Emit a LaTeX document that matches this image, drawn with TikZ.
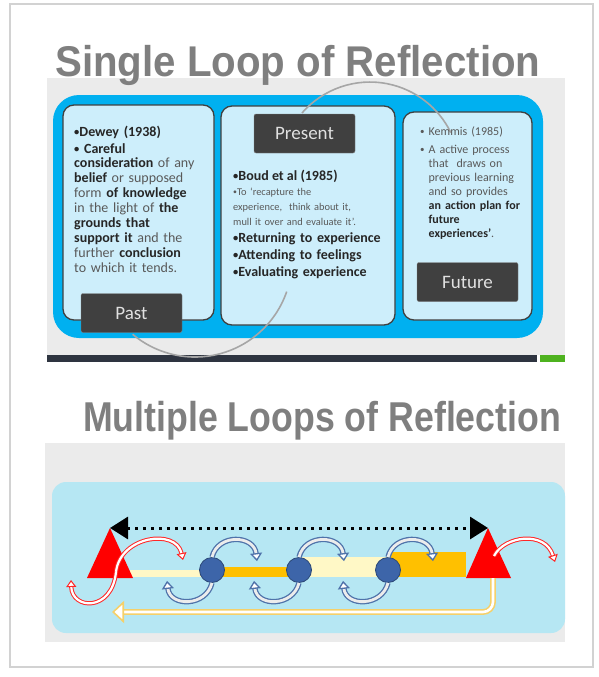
\documentclass[tikz,border=0pt]{standalone}
\usepackage{fontspec}
\usepackage{graphicx}
\setmainfont{Carlito}
\newfontfamily\headfont{Liberation Sans}
\usetikzlibrary{positioning,arrows.meta}

\definecolor{headgrey}{HTML}{7F7F7F}
\definecolor{slidegrey}{HTML}{EBEBEB}
\definecolor{loopblue}{HTML}{00B0F0}
\definecolor{cardblue}{HTML}{CDEEFB}
\definecolor{tagdark}{HTML}{404040}
\definecolor{inkdark}{HTML}{262626}
\definecolor{inkgrey}{HTML}{595959}
\definecolor{barslate}{HTML}{2E3440}
\definecolor{bargreen}{HTML}{4EB21F}
\definecolor{skyblue}{HTML}{B6E7F3}
\definecolor{paleyellow}{HTML}{FFF8C6}
\definecolor{amber}{HTML}{FFC000}
\definecolor{stepblue}{HTML}{3D65A9}
\definecolor{arcblue}{HTML}{4F73AA}
\definecolor{markred}{HTML}{FF0000}
\definecolor{gold}{HTML}{F5D06A}

\newcommand{\keyw}[1]{\textbf{\color{inkdark}#1}}
\newcommand{\bul}{\raisebox{0.4pt}{\scalebox{0.75}{\textbullet}}}

\begin{document}
\begin{tikzpicture}[x=1pt,y=-1pt]
  \tikzstyle{card}=[draw=tagdark,line width=1.3pt,fill=cardblue,rounded corners=11pt]
  \tikzstyle{tag}=[draw=gray,fill=tagdark,rounded corners=2pt,text=white!88!black,
    font=\fontsize{19}{19}\selectfont,minimum width=101pt,minimum height=39pt]
  \tikzstyle{txt}=[inner sep=0pt,anchor=base west,align=left,text=inkgrey]
  \tikzstyle{heading}=[inner sep=0pt,anchor=base west,text=headgrey,font=\headfont\bfseries\fontsize{43}{43}\selectfont]
  \tikzstyle{loopline}=[draw=gray!70,line width=1.6pt]
  \tikzstyle{stepdot}=[circle,fill=stepblue,draw=stepblue!70!black,line width=0.8pt,minimum size=25pt,inner sep=0pt]
  \tikzstyle{bluearc}=[draw=arcblue,line width=1.3pt,double=white!85!gray,double distance=2.8pt,
    -{Triangle[length=8pt,width=12pt,fill=white]}]
  \tikzstyle{redarc}=[draw=markred!85!white,line width=1pt,double=white,double distance=2.2pt,
    -{Triangle[length=7pt,width=10pt,fill=white]}]
  \tikzstyle{returnline}=[draw=gold,line width=1.6pt,double=white,double distance=2.6pt,rounded corners=10pt,
    -{Triangle[length=12pt,width=22pt,fill=white]}]
  \tikzstyle{dotline}=[draw=black,line width=3pt,dash pattern=on 3pt off 5pt,
    {Triangle[length=18pt,width=22pt]}-{Triangle[length=18pt,width=22pt]}]

  \useasboundingbox (0,0) rectangle (598,677);
  \fill[white] (0,0) rectangle (598,677);
  \draw[gray!35,line width=1.5pt] (10,4) rectangle (593,667);

  % single loop
  \fill[slidegrey] (47,78) rectangle (565,355);
  \fill[barslate] (47,355) rectangle (537,362);
  \fill[bargreen] (540,355) rectangle (565,362);
  \node[heading] (singletitle) at (55,76) {\scalebox{0.936}[1]{Single Loop of Reflection}};
  \fill[loopblue,rounded corners=26pt] (53,95) rectangle (543,338);

  \node[card,minimum width=151pt,minimum height=215pt] (pastbox) at (138.5,212.5) {};
  \node[card,minimum width=174pt,minimum height=219pt] (presentbox) at (308,215.5) {};
  \node[card,minimum width=129pt,minimum height=208pt] (futurebox) at (467.5,216) {};

  \draw[loopline] (302,113) arc (-139:-26:90);
  \draw[loopline] (286.7,291.6) arc (19:130:97);

  \node[txt,text width=140pt,font=\fontsize{14}{14.9}\selectfont] (deweytext) at (74,136)
    {\keyw{\bul Dewey (1938)}\\[2.1pt]
     \keyw{\bul\ Careful}\\
     \keyw{consideration} of any\\
     \keyw{belief} or supposed\\
     form \keyw{of knowledge}\\
     in the light of \keyw{the}\\
     \keyw{grounds that}\\
     \keyw{support it} and the\\
     further \keyw{conclusion}\\
     to which it tends.};

  \node[txt,font=\fontsize{14}{17}\selectfont] (boudhead) at (233,180) {\keyw{\bul Boud et al (1985)}};
  \node[txt,text width=160pt,font=\fontsize{10.4}{15}\selectfont] (boudquote) at (233,195)
    {\bul To `recapture the\\
     experience,\ \ think about it,\\
     mull it over and evaluate it'.};
  \node[txt,text width=160pt,font=\fontsize{14}{17}\selectfont] (boudsteps) at (233,242)
    {\keyw{\bul Returning to experience}\\
     \keyw{\bul Attending to feelings}\\
     \keyw{\bul Evaluating experience}};

  \node[txt,text width=112pt,font=\fontsize{12}{14}\selectfont] (kemmistext) at (420,135)
    {\bul\ Kemmis (1985)\\[4pt]
     \bul\ A active process\\
     \phantom{\bul\ }that\ \ draws on\\
     \phantom{\bul\ }previous learning\\
     \phantom{\bul\ }and so provides\\
     \phantom{\bul\ }\keyw{an action plan for}\\
     \phantom{\bul\ }\keyw{future}\\
     \phantom{\bul\ }\keyw{experiences'}.};

  \node[tag] (pastlabel) at (131.5,313) {Past};
  \node[tag] (presentlabel) at (304.5,133.5) {Present};
  \node[tag] (futurelabel) at (467.5,282) {Future};

  % multiple loops
  \fill[slidegrey] (45,443) rectangle (565,642);
  \node[heading] (multititle) at (83,431) {\scalebox{0.83}[0.97]{Multiple Loops of Reflection}};
  \fill[skyblue,rounded corners=14pt] (52,482) rectangle (565,633);

  \fill[paleyellow] (130,570) rectangle (212,577);
  \fill[amber] (212,567) rectangle (299,577);
  \fill[paleyellow] (299,557) rectangle (388,577);
  \fill[amber] (388,552) rectangle (466,577);

  \coordinate (pasttip) at (110,528);
  \coordinate (futuretip) at (488,528);
  \fill[markred] (pasttip) -- (87,578) -- (133,578) -- cycle;
  \fill[markred] (futuretip) -- (466,578) -- (511,578) -- cycle;

  \foreach \i/\x in {1/212,2/299,3/388}
    \node[stepdot] (step\i) at (\x,570) {};

  \draw[dotline] (pasttip) -- (futuretip);

  \foreach \i in {1,2,3} {
    \draw[bluearc] (step\i.north) .. controls +(6,-24) and +(-3,-26) .. +(45,4);
    \draw[bluearc] (step\i.south) .. controls +(-6,24) and +(3,26) .. +(-45,-2);
  }

  \coordinate (pastcore) at (116,572);
  \coordinate (futurecore) at (494,556);
  \draw[redarc] (pastcore) .. controls (120,536) and (176,528) .. (183,560);
  \draw[redarc] (pastcore) .. controls (112,612) and (72,610) .. (71,580);
  \draw[redarc] (futurecore) .. controls (504,536) and (545,530) .. (555,562);

  \coordinate (futurebase) at (493,578);
  \coordinate (pastreturn) at (112,612);
  \draw[returnline] (futurebase) |- (pastreturn);
\end{tikzpicture}
\end{document}
